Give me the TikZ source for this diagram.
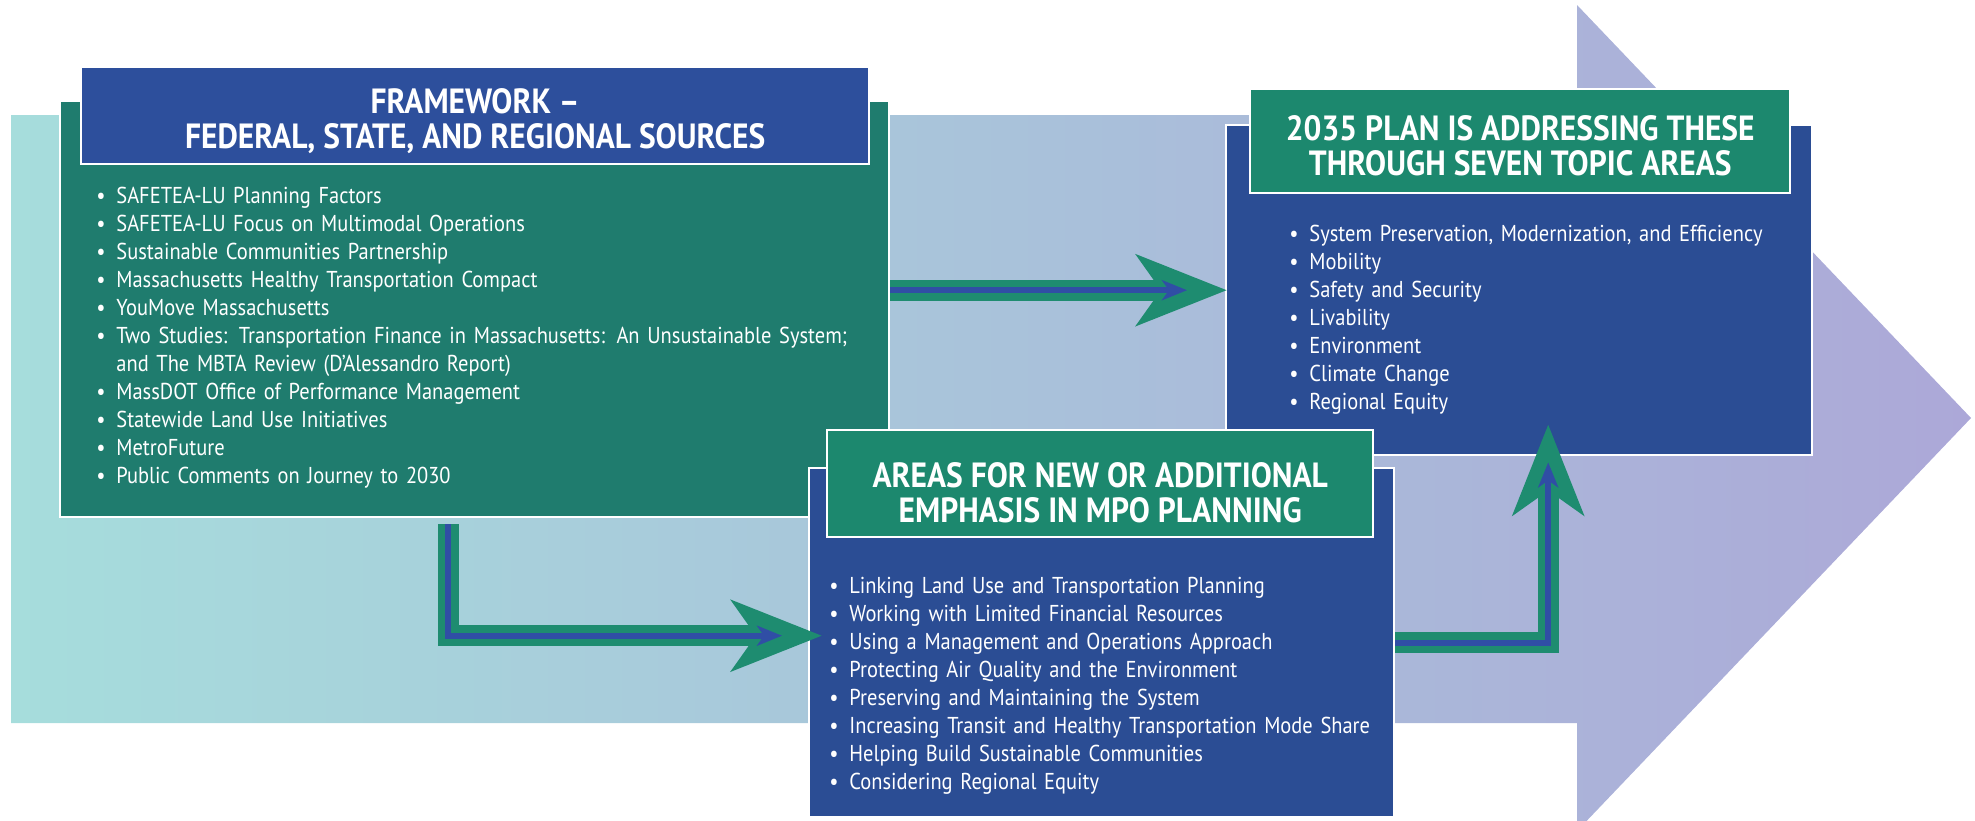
\documentclass[tikz,border=0pt]{standalone}
\usepackage{fontspec}
\setmainfont{PT Sans}[FakeStretch=0.89]
\newfontfamily\headfont{PT Sans}[FakeStretch=0.9]
\usetikzlibrary{arrows.meta}

\definecolor{framegreen}{RGB}{31,124,110}
\definecolor{headgreen}{RGB}{28,136,110}
\definecolor{headblue}{RGB}{45,79,156}
\definecolor{boxblue}{RGB}{43,77,148}
\definecolor{arrowgreen}{RGB}{30,140,112}
\definecolor{arrowblue}{RGB}{48,78,165}
\definecolor{bgaqua}{RGB}{166,221,220}
\definecolor{bgsteel}{RGB}{166,190,214}
\definecolor{bglilac}{RGB}{172,168,216}

\newlength\bulletwd
\setlength\bulletwd{10pt}
\newcommand\bulletitem[1]{\par\noindent\hangindent=\bulletwd\hangafter=1\makebox[\bulletwd][l]{\textbullet}#1}

\tikzset{
  bodybox/.style={draw=white, line width=1.2pt, anchor=north west, inner sep=0pt},
  headbox/.style={draw=white, line width=1.2pt, anchor=north west, inner sep=0pt},
  headtext/.style={text=white, align=center, inner sep=0pt,
    font=\headfont\fontsize{17.5}{17.5}\selectfont\bfseries},
  bullets/.style={anchor=north west, inner sep=0pt, text=white, align=left,
    font=\fontsize{11.5}{14}\selectfont},
  flow/.style 2 args={draw=arrowgreen, line width=10.5pt, shorten >=#1,
    -{Stealth[length=45pt, width=35pt, inset=12pt]},
    postaction={draw=arrowblue, line width=3pt, shorten >=#2,
      -{Stealth[length=12.5pt, width=10pt, inset=3.5pt]}}}
}

\begin{document}
\begin{tikzpicture}[x=0.5pt, y=-0.5pt]
    \clip (0,0) rectangle (1975,820);

    % Big background arrow
    \shade[left color=bgaqua, middle color=bgsteel, right color=bglilac]
        (11,115) -- (1577,115) -- (1577,5) -- (1971,418) -- (1577,831)
        -- (1577,723) -- (11,723) -- cycle;

    % Framework
    \node[bodybox, fill=framegreen, minimum width=414.5pt, minimum height=208pt] (frame) at (59,100) {};
    \node[headbox, fill=headblue, minimum width=394pt, minimum height=48.5pt] (framehead) at (80,66) {};
    \node[headtext] (frametitle) at ([yshift=-2.5pt]framehead.center)
        {FRAMEWORK –\\FEDERAL, STATE, AND REGIONAL SOURCES};
    \node[bullets, text width=420pt] (framelist) at (96,175) {%
        \bulletitem{SAFETEA-LU Planning Factors}
        \bulletitem{SAFETEA-LU Focus on Multimodal Operations}
        \bulletitem{Sustainable Communities Partnership}
        \bulletitem{Massachusetts Healthy Transportation Compact}
        \bulletitem{YouMove Massachusetts}
        \bulletitem{Two Studies: Transportation Finance in Massachusetts: An Unsustainable System;\newline and The MBTA Review (D’Alessandro Report)}
        \bulletitem{MassDOT Office of Performance Management}
        \bulletitem{Statewide Land Use Initiatives}
        \bulletitem{MetroFuture}
        \bulletitem{Public Comments on Journey to 2030}};

    % 2035 plan
    \node[bodybox, fill=boxblue, minimum width=293pt, minimum height=165pt] (plan) at (1225,124) {};
    \node[headbox, fill=headgreen, minimum width=270pt, minimum height=52pt] (planhead) at (1249,88) {};
    \node[headtext] (plantitle) at ([yshift=-2.5pt]planhead.center)
        {2035 PLAN IS ADDRESSING THESE\\THROUGH SEVEN TOPIC AREAS};
    \node[bullets, text width=300pt] (planlist) at (1289,213) {%
        \bulletitem{System Preservation, Modernization, and Efficiency}
        \bulletitem{Mobility}
        \bulletitem{Safety and Security}
        \bulletitem{Livability}
        \bulletitem{Environment}
        \bulletitem{Climate Change}
        \bulletitem{Regional Equity}};

    % Areas of emphasis
    \node[bodybox, fill=boxblue, minimum width=292.5pt, minimum height=174.5pt] (areas) at (808,467) {};
    \node[headbox, fill=headgreen, minimum width=273pt, minimum height=53.5pt] (areashead) at (826,429) {};
    \node[headtext] (areastitle) at ([yshift=-4.5pt]areashead.center)
        {AREAS FOR NEW OR ADDITIONAL\\EMPHASIS IN MPO PLANNING};
    \node[bullets, text width=310pt] (areaslist) at (829,565) {%
        \bulletitem{Linking Land Use and Transportation Planning}
        \bulletitem{Working with Limited Financial Resources}
        \bulletitem{Using a Management and Operations Approach}
        \bulletitem{Protecting Air Quality and the Environment}
        \bulletitem{Preserving and Maintaining the System}
        \bulletitem{Increasing Transit and Healthy Transportation Mode Share}
        \bulletitem{Helping Build Sustainable Communities}
        \bulletitem{Considering Regional Equity}};

    % Flow arrows
    \draw[flow={-1pt}{19pt}] (frame.east |- plan.west) -- (plan.west);
    \draw[flow={-7pt}{13pt}] ([xshift=194.5pt, yshift=-3pt]frame.south west) |- ([yshift=3.5pt]areas.west);
    \draw[flow={-16pt}{3pt}] (areas.east) -| ([xshift=14.5pt]plan.south);
\end{tikzpicture}
\end{document}
